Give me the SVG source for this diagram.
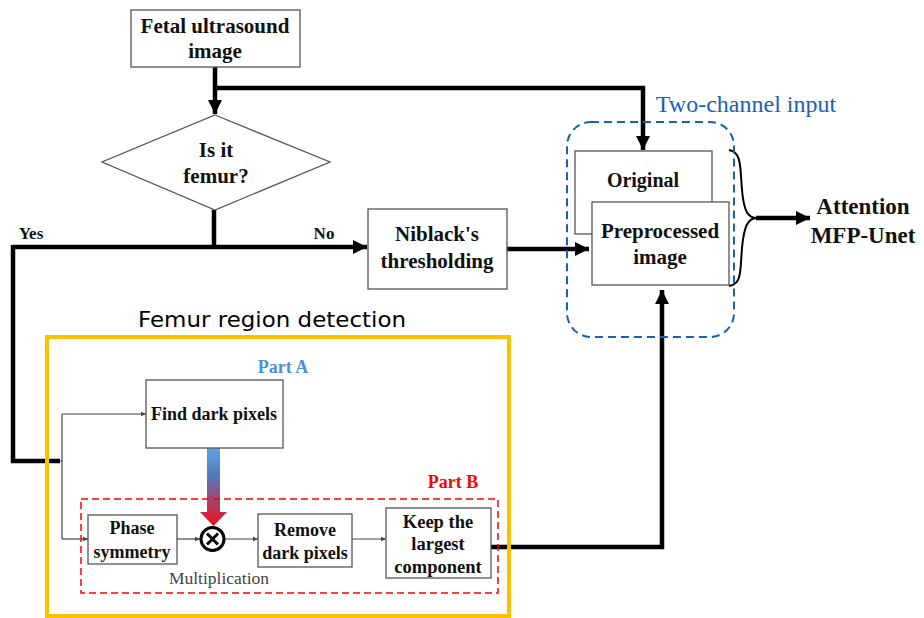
<svg xmlns="http://www.w3.org/2000/svg" width="924" height="618" viewBox="0 0 924 618">
<defs>
<style>
.box{fill:#fff;stroke:#555;stroke-width:1.3}
.t{font-family:"Liberation Serif","Times New Roman",serif;font-weight:bold;fill:#111;text-anchor:middle}
.thick{fill:none;stroke:#000;stroke-width:4.5}
.thin{fill:none;stroke:#444;stroke-width:1.2}
</style>
<marker id="ah" markerUnits="userSpaceOnUse" markerWidth="16" markerHeight="16" refX="14" refY="8" orient="auto">
<path d="M0,1 L14,8 L0,15 Z" fill="#000"/>
</marker>
<marker id="as" markerUnits="userSpaceOnUse" markerWidth="6" markerHeight="6" refX="5" refY="3" orient="auto">
<path d="M0,0.8 L5,3 L0,5.2 Z" fill="#444"/>
</marker>
<linearGradient id="grad" x1="0" y1="0" x2="0" y2="1">
<stop offset="0" stop-color="#5aa6e6"/>
<stop offset="0.35" stop-color="#5478c2"/>
<stop offset="1" stop-color="#f0101a"/>
</linearGradient>
</defs>
<rect width="924" height="618" fill="#fff"/>

<g id="connectors">
<path class="thick" d="M215,67 V114" marker-end="url(#ah)"/>
<path class="thick" d="M215,88 H643 V150" marker-end="url(#ah)"/>
<path class="thick" d="M214,210 V247"/>
<path class="thick" d="M13,247 H367" marker-end="url(#ah)"/>
<path class="thick" d="M13,245 V461 H60"/>
<path class="thick" d="M507,249 H589" marker-end="url(#ah)"/>
<path class="thick" d="M491,547 H662 V290" marker-end="url(#ah)"/>
<path class="thick" d="M756,218 H810" marker-end="url(#ah)"/>
<path d="M729,150 C742,152 740,168 742,190 C744,212 748,218 757,218 C748,218 744,226 742,248 C740,272 742,284 729,286" fill="none" stroke="#000" stroke-width="2"/>
<path class="thin" d="M60,461 H62 M62,414 V539"/>
<path class="thin" d="M62,414 H146" marker-end="url(#as)"/>
<path class="thin" d="M62,539 H88" marker-end="url(#as)"/>
<path class="thin" d="M177,539 H200" marker-end="url(#as)"/>
<path class="thin" d="M225,539 H258" marker-end="url(#as)"/>
<path class="thin" d="M352,539 H386" marker-end="url(#as)"/>
<path d="M207,448 H220 V512 H227 L213.5,526 L200,512 H207 Z" fill="url(#grad)"/>
</g>

<g id="group-femur">
<rect x="47" y="337" width="462" height="279" fill="none" stroke="#ffc000" stroke-width="4"/>
<text x="272" y="327" font-family="'DejaVu Sans',sans-serif" font-size="21" text-anchor="middle" fill="#000" textLength="268" lengthAdjust="spacingAndGlyphs">Femur region detection</text>
</g>
<g id="group-partB">
<rect x="81" y="499" width="417" height="94" fill="none" stroke="#ff0000" stroke-width="1.5" stroke-dasharray="7,4"/>
<text x="453" y="488" class="t" font-size="18" style="fill:#ff0000">Part B</text>
</g>
<g id="label-partA">
<text x="283" y="373" class="t" font-size="18" style="fill:#4a90d9">Part A</text>
</g>
<g id="group-twochannel">
<rect x="567" y="122" width="167" height="215" rx="24" fill="none" stroke="#1a5fb4" stroke-width="2" stroke-dasharray="8,5"/>
<text x="746" y="112" font-family="'Liberation Serif',serif" font-size="24" fill="#1a5fb4" text-anchor="middle">Two-channel input</text>
</g>

<g id="n-fetal">
<rect class="box" x="131" y="10" width="169" height="57"/>
<text class="t" x="215" y="33" font-size="21">Fetal ultrasound</text>
<text class="t" x="215" y="58" font-size="21">image</text>
</g>
<g id="n-femur">
<path class="box" d="M215,115 L330,162 L215,210 L102,162 Z"/>
<text class="t" x="216" y="157" font-size="21">Is it</text>
<text class="t" x="216" y="183" font-size="21">femur?</text>
</g>
<g id="labels-yesno">
<text class="t" x="31" y="239" font-size="17">Yes</text>
<text class="t" x="324" y="239" font-size="17">No</text>
</g>
<g id="n-niblack">
<rect class="box" x="368" y="209" width="139" height="80"/>
<text class="t" x="437" y="241" font-size="21">Niblack's</text>
<text class="t" x="437" y="268" font-size="21">thresholding</text>
</g>
<g id="n-original">
<rect class="box" x="575" y="151" width="137" height="83"/>
<text class="t" x="643" y="187" font-size="20">Original</text>
</g>
<g id="n-preprocessed">
<rect class="box" x="592" y="202" width="137" height="83"/>
<text class="t" x="660" y="238" font-size="21">Preprocessed</text>
<text class="t" x="660" y="264" font-size="21">image</text>
</g>
<g id="n-attention">
<text class="t" x="863" y="214" font-size="23">Attention</text>
<text class="t" x="863" y="243" font-size="23">MFP-Unet</text>
</g>
<g id="n-find">
<rect class="box" x="146" y="380" width="137" height="68"/>
<text class="t" x="214" y="420" font-size="18">Find dark pixels</text>
</g>
<g id="n-phase">
<rect class="box" x="88" y="515" width="89" height="49"/>
<text class="t" x="132" y="534" font-size="18">Phase</text>
<text class="t" x="132" y="558" font-size="18">symmetry</text>
</g>
<g id="n-mult">
<circle cx="212.5" cy="539" r="11.5" fill="#fff" stroke="#000" stroke-width="3"/>
<path d="M207,533.5 L218,544.5 M218,533.5 L207,544.5" stroke="#000" stroke-width="3"/>
<text x="219" y="584" font-family="'Liberation Serif',serif" font-size="17.5" fill="#444" text-anchor="middle">Multiplication</text>
</g>
<g id="n-remove">
<rect class="box" x="258" y="514" width="94" height="53"/>
<text class="t" x="305" y="536" font-size="18">Remove</text>
<text class="t" x="305" y="559" font-size="18">dark pixels</text>
</g>
<g id="n-keep">
<rect class="box" x="386" y="508" width="105" height="70"/>
<text class="t" x="438" y="528" font-size="18.5">Keep the</text>
<text class="t" x="438" y="550" font-size="18.5">largest</text>
<text class="t" x="438" y="573" font-size="18.5">component</text>
</g>
</svg>
